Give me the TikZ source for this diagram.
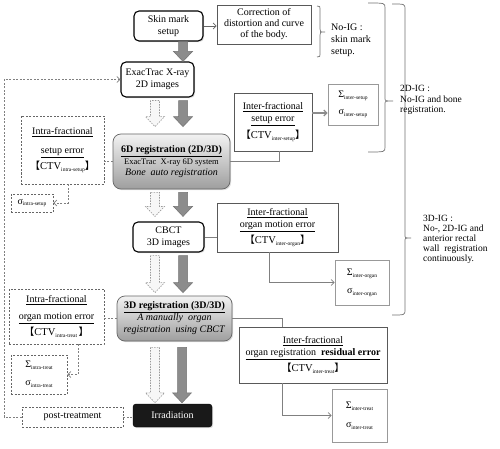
\documentclass[tikz,border=0pt]{standalone}
\usepackage{fontspec}
\setmainfont{Liberation Serif}
\newfontfamily\cjk{Noto Sans CJK SC}
\usetikzlibrary{calc,arrows.meta,shadows}
\newcommand\sbs[1]{\raisebox{-1.8pt}{\fontsize{5.5}{6}\selectfont #1}}
\newcommand\ctv[1]{{\cjk 【}{\fontsize{10.5}{12}\selectfont CTV}\sbs{#1}{\cjk 】}}
\newcommand\blockarr[3]{\path[#1] let \p1=#2, \p2=#3 in
  (\x1-4.5pt,\y1) -- (\x1-4.5pt,\y2+10pt) -- (\x1-9.5pt,\y2+10pt) -- (\x1,\y2)
  -- (\x1+9.5pt,\y2+10pt) -- (\x1+4.5pt,\y2+10pt) -- (\x1+4.5pt,\y1) -- cycle;}
\newcommand\wbrace[6]{\draw[bracestyle] (#1,#4) .. controls (#2,#4) .. (#2,#4+5) -- (#2,#5-3)
  .. controls (#2,#5) .. (#3,#5) .. controls (#2,#5) .. (#2,#5+3) -- (#2,#6-5)
  .. controls (#2,#6) .. (#1,#6);}
\tikzset{
  every node/.style={font=\fontsize{10}{12}\selectfont, align=center, inner sep=1pt},
  shad/.style={drop shadow={opacity=0.25,shadow xshift=1.2pt,shadow yshift=-1.2pt}},
  rbox/.style={draw=black, line width=1.1pt, rounded corners=5pt, fill=white, shad},
  gbox/.style={draw=black!60, line width=0.7pt, rounded corners=8pt, top color=black!5, bottom color=black!38, shad},
  sbox/.style={draw=black!65, line width=0.7pt, fill=white},
  sigbox/.style={draw=black!40, line width=0.6pt, fill=white},
  dbox/.style={draw=black!60, line width=0.6pt, dash pattern=on 2pt off 1.5pt, fill=white},
  conn/.style={draw=black!50, line width=0.7pt},
  dconn/.style={conn, dash pattern=on 2pt off 1.5pt},
  barb/.style={-{Straight Barb[length=3pt,width=6pt]}},
  solidarr/.style={fill=black!45, draw=black!55, line width=0.5pt},
  dasharr/.style={fill=black!3, draw=black!40, line width=0.6pt, dash pattern=on 1.5pt off 1.2pt},
  bracestyle/.style={draw=black!55, line width=0.7pt},
  lbl/.style={anchor=west, align=left, inner sep=0pt}
}
\begin{document}
\begin{tikzpicture}[x=1pt,y=-1pt]
\useasboundingbox[fill=white] (0,0) rectangle (500,449);
\coordinate (sx) at (183,0);
\coordinate (dx) at (155,0);
\coordinate (lx) at (4,0);

% main column
\node[rbox, minimum width=69pt, minimum height=30pt] (skin) at (168.5,26) {Skin mark\\setup};
\node[rbox, minimum width=73pt, minimum height=35pt] (exac) at (157.5,79.5) {ExacTrac X-ray\\2D images};
\node[gbox, minimum width=117pt, minimum height=55pt] (sixd) at (171.5,161.5)
  {\textbf{\underline{6D registration (2D/3D)}}\\[0.5pt]{\fontsize{8.5}{11}\selectfont ExacTrac\ \ X-ray 6D system}\\[-1pt]\textit{Bone\ \ auto registration}};
\node[rbox, minimum width=71pt, minimum height=30pt] (cbct) at (168.5,237) {CBCT\\3D images};
\node[gbox, minimum width=115pt, minimum height=45pt] (threed) at (174.5,318.5)
  {\textbf{\underline{3D registration (3D/3D)}}\\\textit{A manually\ \ organ}\\\textit{registration\ \ using CBCT}};
\node[draw=black, fill=black!90, rounded corners=3pt, text=white, minimum width=79pt, minimum height=23pt, shad] (irr) at (172.5,415.5) {Irradiation};

% right boxes
\node[sbox, minimum width=94pt, minimum height=39pt] (corr) at (264,24.5) {Correction of\\[-1pt]distortion and curve\\[-1pt]of the body.};
\node[sbox, minimum width=78pt, minimum height=58pt] (interS) at (273,122)
  {\underline{Inter-fractional}\\\underline{setup error}\\[3pt]\ctv{inter-setup}};
\node[sigbox, minimum width=50pt, minimum height=41pt] (sigInterS) at (353,104.5)
  {Σ\sbs{inter-setup}\\[5pt]σ\sbs{inter-setup}};
\node[sbox, minimum width=121pt, minimum height=49pt] (interO) at (277.5,227.5)
  {\underline{Inter-fractional}\\\underline{organ motion error}\\[2pt]\ctv{inter-organ}};
\node[sigbox, minimum width=54pt, minimum height=45pt] (sigIO) at (362,282.5)
  {Σ\sbs{inter-organ}\\[6pt]σ\sbs{inter-organ}};
\node[sbox, minimum width=148pt, minimum height=56pt] (interT) at (313,355)
  {\underline{Inter-fractional}\\\underline{organ registration\ \ \textbf{residual error}}\\[3pt]\ctv{inter-treat}};
\node[sigbox, minimum width=55pt, minimum height=53pt] (sigTT) at (359.5,415.5)
  {Σ\sbs{inter-treat}\\[7pt]σ\sbs{inter-treat}};

% left dashed boxes
\node[dbox, minimum width=83pt, minimum height=68pt] (intraS) at (62.5,150)
  {\underline{Intra-fractional}\\[7pt]\underline{setup error}\\[3pt]\ctv{intra-setup}};
\node[dbox, minimum width=42pt, minimum height=18pt] (sigIS) at (32,203) {σ\sbs{intra-setup}};
\node[dbox, minimum width=95pt, minimum height=55pt] (intraO) at (56.5,316.5)
  {\underline{Intra-fractional}\\[5pt]\underline{organ motion error}\\[3pt]\ctv{intra-treat\ }};
\node[dbox, minimum width=56pt, minimum height=39pt] (sigIT) at (39,374.5)
  {Σ\sbs{intra-treat}\\[6pt]σ\sbs{intra-treat}};
\node[dbox, minimum width=101pt, minimum height=20pt] (post) at (72.5,417) {post-treatment};

% block arrows
\blockarr{solidarr}{(skin.south -| sx)}{(exac.north -| sx)}
\blockarr{solidarr}{($(exac.south -| sx)+(0,3)$)}{($(sixd.north -| sx)+(0,-7)$)}
\blockarr{dasharr}{($(exac.south -| dx)+(0,3)$)}{($(sixd.north -| dx)+(0,-7)$)}
\blockarr{solidarr}{($(sixd.south -| sx)+(0,3)$)}{($(cbct.north -| sx)+(0,-5)$)}
\blockarr{dasharr}{($(sixd.south -| dx)+(0,3)$)}{($(cbct.north -| dx)+(0,-5)$)}
\blockarr{solidarr}{($(cbct.south -| sx)+(0,3)$)}{($(threed.north -| sx)+(0,-3)$)}
\blockarr{dasharr}{($(cbct.south -| dx)+(0,3)$)}{($(threed.north -| dx)+(0,-3)$)}
\blockarr{solidarr}{($(threed.south -| sx)+(-1,6)$)}{($(irr.north -| sx)+(-1,-1)$)}
\blockarr{dasharr}{($(threed.south -| dx)+(0,6)$)}{($(irr.north -| dx)+(0,-1)$)}

% connectors
\coordinate (isa) at (interS.east |- 0,113);
\draw[draw=black!60, line width=0.8pt, barb] (skin.east) -- (skin.east -| corr.west);
\draw[conn] (sixd.east) -| ($(interS.south)+(6,0)$);
\draw[draw=black!45, line width=1.3pt, -{Straight Barb[length=3pt,width=6pt]}] (isa) -- (isa -| sigInterS.west);
\draw[conn] (cbct.east) -- (cbct.east -| interO.west);
\draw[conn, barb] ($(interO.south)+(-8.5,0)$) |- (sigIO.west);
\draw[conn] (threed.east) -| ($(interT.north)+(-31,0)$);
\draw[conn, barb] ($(interT.south)+(-31,0)$) |- (sigTT.west);
\draw[dconn] (sixd.west) -- (sixd.west -| intraS.east);
\draw[dconn, barb] ($(intraS.south)+(5.5,0)$) |- (sigIS.east);
\draw[dconn] (threed.west) -- (threed.west -| intraO.east);
\draw[dconn, barb] ($(intraO.south)+(21.5,0)$) |- (sigIT.east);
\draw[dconn] (post.east) -- (post.east -| irr.west);
\draw[dconn, barb] (post.west) -- (post.west -| lx) |- (exac.west);

% braces
\wbrace{317}{320}{325}{6}{32}{57}
\wbrace{368}{385}{393}{3}{101}{152}
\wbrace{392}{405}{411}{4}{238}{315}
\node[lbl, font=\fontsize{10}{12}\selectfont] (lab1) at (331,40) {No-IG :\\skin mark\\setup.};
\node[lbl, font=\fontsize{9.5}{10.8}\selectfont] (lab2) at (400,100) {2D-IG :\\No-IG and bone\\registration.};
\node[lbl, font=\fontsize{9.5}{10}\selectfont] (lab3) at (423,239) {3D-IG :\\No-, 2D-IG and\\anterior rectal\\wall\ \ registration\\continuously.};
\end{tikzpicture}
\end{document}
